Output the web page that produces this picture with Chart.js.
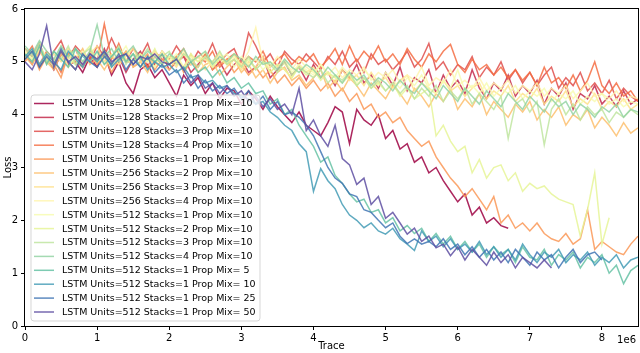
<!DOCTYPE html>
<html>
<head>
<meta charset="utf-8">
<script src="https://cdn.jsdelivr.net/npm/chart.js@4/dist/chart.umd.min.js"></script>
<style>body{margin:0;background:#fff}</style>
</head>
<body>
<canvas id="chart" width="640" height="353"></canvas>
<script>
'use strict'

// trace axis: one sample every 0.1e6 steps
const traceStep = 100000
const xTicks = [0, 1, 2, 3, 4, 5, 6, 7, 8]
const yTicks = [0, 1, 2, 3, 4, 5, 6]

const labels = [
	'LSTM Units=128 Stacks=1 Prop Mix=10',
	'LSTM Units=128 Stacks=2 Prop Mix=10',
	'LSTM Units=128 Stacks=3 Prop Mix=10',
	'LSTM Units=128 Stacks=4 Prop Mix=10',
	'LSTM Units=256 Stacks=1 Prop Mix=10',
	'LSTM Units=256 Stacks=2 Prop Mix=10',
	'LSTM Units=256 Stacks=3 Prop Mix=10',
	'LSTM Units=256 Stacks=4 Prop Mix=10',
	'LSTM Units=512 Stacks=1 Prop Mix=10',
	'LSTM Units=512 Stacks=2 Prop Mix=10',
	'LSTM Units=512 Stacks=3 Prop Mix=10',
	'LSTM Units=512 Stacks=4 Prop Mix=10',
	'LSTM Units=512 Stacks=1 Prop Mix= 5',
	'LSTM Units=512 Stacks=1 Prop Mix= 10',
	'LSTM Units=512 Stacks=1 Prop Mix= 25',
	'LSTM Units=512 Stacks=1 Prop Mix= 50',
]

const colors = [
	'#9e0142', '#c32a4b', '#df4e4b', '#f46d43',
	'#fa9857', '#fdbf6f', '#fee08b', '#fff5ae',
	'#f7fcb2', '#e6f598', '#bfe5a0', '#94d4a4',
	'#66c2a5', '#439bb5', '#4175b4', '#5e4fa2',
]

const loss128s1 = [5.05, 5.2, 4.9, 5.1, 4.85, 5.15, 4.95, 5.0, 4.8, 5.1,
	4.9, 5.15, 4.75, 5.0, 4.6, 4.4, 4.85, 4.95, 4.7, 4.85,
	4.6, 4.35, 4.75, 4.55, 4.7, 4.4, 4.6, 4.3, 4.5, 4.45,
	4.2, 4.45, 4.3, 4.1, 4.35, 4.15, 4.0, 3.85, 4.05, 3.8,
	3.7, 3.6, 3.85, 4.15, 4.05, 3.45, 4.1, 3.9, 3.8, 4.0,
	3.55, 3.7, 3.35, 3.45, 3.1, 3.2, 2.9, 3.0, 2.75, 2.55,
	2.35, 2.5, 2.1, 2.25, 1.95, 2.05, 1.9, 1.85]
const loss128s2 = [5.15, 4.95, 5.3, 5.05, 4.9, 5.2, 5.0, 4.85, 5.15, 5.05,
	4.9, 5.25, 4.95, 5.1, 4.8, 5.05, 5.2, 4.9, 4.95, 5.15,
	4.85, 5.0, 5.1, 4.8, 4.95, 5.15, 4.85, 5.0, 4.75, 4.95,
	5.05, 4.8, 4.9, 5.1, 4.7, 4.85, 5.0, 4.75, 4.9, 4.65,
	4.95, 4.7, 4.8, 4.55, 4.85, 4.7, 4.95, 4.6, 4.75, 4.5,
	4.8, 4.55, 4.9, 4.45, 4.7, 4.6, 4.85, 4.4, 4.75, 4.5,
	4.65, 4.4, 4.85, 4.5, 4.3, 4.6, 4.45, 4.75, 4.35, 4.55,
	4.4, 4.65, 4.2, 4.5, 4.35, 4.6, 4.1, 4.4, 4.3, 4.55,
	4.2, 4.35, 4.15, 4.45, 4.2, 4.3]
const loss128s3 = [5.25, 5.1, 5.35, 5.0, 5.2, 5.4, 5.05, 5.3, 5.15, 5.0,
	5.3, 5.1, 5.45, 5.15, 5.0, 5.25, 5.1, 5.35, 4.95, 5.2,
	5.05, 5.3, 5.1, 4.95, 5.2, 5.05, 5.35, 5.0, 5.15, 5.25,
	4.95, 5.55, 5.3, 5.0, 5.15, 4.9, 5.2, 5.05, 4.95, 5.15,
	5.0, 4.85, 5.1, 4.95, 5.2, 4.9, 5.05, 4.8, 5.15, 4.95,
	5.05, 4.85, 5.0, 5.2, 4.9, 5.05, 5.35, 4.85, 5.0, 4.75,
	4.95, 4.85, 5.1, 4.7, 4.9, 4.75, 5.0, 4.65, 4.85, 4.6,
	4.8, 4.55, 4.75, 4.9, 4.5, 4.7, 4.55, 4.8, 4.45, 4.6,
	4.4, 4.65, 4.3, 4.5, 4.35, 4.25]
const loss128s4 = [5.1, 5.3, 4.95, 5.2, 5.05, 4.8, 5.15, 5.25, 4.9, 5.1,
	5.0, 5.72, 5.05, 5.35, 5.0, 5.0, 5.15, 4.9, 5.2, 5.05,
	4.95, 5.1, 5.25, 4.95, 5.1, 5.0, 5.2, 4.9, 5.05, 5.15,
	4.95, 5.1, 5.0, 5.2, 4.9, 5.05, 5.15, 4.95, 5.1, 5.0,
	5.15, 4.9, 5.05, 5.25, 4.95, 5.3, 5.0, 5.2, 5.05, 5.3,
	5.0, 5.15, 4.95, 5.25, 5.05, 4.9, 5.15, 5.0, 5.2, 5.33,
	4.95, 4.8, 5.05, 4.85, 4.95, 4.75, 4.9, 4.7, 4.85, 4.65,
	4.8, 4.55, 4.9, 4.6, 4.7, 4.5, 4.75, 4.45, 4.65, 5.0,
	4.55, 4.4, 4.6, 4.35, 4.45, 4.25]
const loss256s1 = [5.0, 5.2, 4.85, 5.1, 4.95, 4.7, 5.15, 5.0, 4.9, 5.2,
	4.95, 5.1, 4.8, 5.05, 5.2, 4.9, 5.0, 5.15, 4.85, 5.05,
	4.95, 5.1, 4.8, 5.0, 4.9, 5.15, 4.85, 4.95, 5.05, 4.8,
	4.95, 4.75, 4.9, 4.7, 4.85, 4.6, 4.75, 4.55, 4.7, 4.5,
	4.65, 4.45, 4.6, 4.35, 4.5, 4.25, 4.4, 4.1, 4.2, 3.95,
	4.05, 3.85, 3.95, 3.7, 3.55, 3.4, 3.5, 3.2, 3.0, 2.8,
	2.65, 2.45, 2.6, 2.4, 2.2, 2.45, 1.95, 2.1, 1.85, 1.95,
	1.8, 1.95, 1.75, 1.65, 1.6, 1.75, 1.55, 1.65, 2.2, 1.45,
	1.6, 1.5, 1.4, 1.35, 1.55, 1.7]
const loss256s2 = [5.1, 4.95, 5.2, 5.0, 4.85, 5.15, 4.9, 5.05, 5.25, 4.95,
	5.05, 4.85, 5.1, 4.95, 5.2, 4.9, 5.0, 4.8, 5.1, 4.95,
	4.85, 5.05, 4.9, 5.15, 4.8, 4.95, 5.0, 4.75, 4.9, 5.05,
	4.8, 4.95, 4.7, 4.85, 4.6, 4.8, 4.9, 4.65, 4.75, 4.55,
	4.7, 4.85, 4.5, 4.65, 4.45, 4.7, 4.55, 4.35, 4.6, 4.45,
	4.3, 4.55, 4.4, 4.2, 4.5, 4.35, 4.15, 4.4, 4.25, 4.5,
	4.1, 4.3, 4.15, 4.4, 4.0, 4.25, 4.1, 3.95, 4.2, 4.05,
	4.25, 3.9, 4.1, 3.95, 4.15, 3.8, 4.0, 3.9, 4.1, 3.75,
	3.95, 3.8, 3.6, 3.85, 3.65, 3.75]
const loss256s3 = [5.2, 5.05, 5.3, 4.95, 5.15, 5.0, 5.25, 5.1, 4.9, 5.15,
	5.3, 5.0, 5.15, 4.95, 5.1, 5.25, 5.0, 5.1, 4.9, 5.2,
	5.05, 4.9, 5.15, 5.0, 5.1, 4.85, 5.0, 5.15, 4.95, 5.05,
	4.85, 5.0, 4.9, 5.1, 4.8, 4.95, 4.85, 4.7, 4.95, 4.8,
	4.9, 4.7, 4.8, 4.6, 4.85, 4.65, 4.75, 4.55, 4.8, 4.6,
	4.7, 4.5, 4.65, 4.75, 4.45, 4.6, 4.5, 4.4, 4.65, 4.45,
	4.55, 4.35, 4.5, 4.6, 4.3, 4.45, 4.35, 4.55, 4.25, 4.4,
	4.3, 4.5, 4.2, 4.35, 4.25, 4.45, 4.15, 4.3, 4.2, 4.4,
	4.1, 4.25, 4.15, 4.3, 4.1, 4.2]
const loss256s4 = [5.1, 5.25, 4.95, 5.15, 5.0, 5.3, 4.9, 5.1, 5.2, 5.0,
	5.15, 4.95, 5.1, 5.25, 5.0, 5.15, 4.9, 5.05, 5.2, 4.95,
	5.1, 5.0, 5.2, 4.95, 5.1, 5.05, 4.9, 5.15, 5.0, 5.1,
	4.95, 5.2, 5.65, 5.0, 4.9, 5.1, 4.95, 4.85, 5.05, 4.9,
	4.8, 4.95, 4.75, 4.9, 4.7, 4.85, 4.75, 4.9, 4.65, 4.8,
	4.7, 4.85, 4.6, 4.75, 4.65, 4.9, 4.55, 4.7, 4.6, 4.85,
	4.55, 4.65, 4.5, 4.7, 4.45, 4.6, 4.5, 4.65, 4.4, 4.55,
	4.45, 4.6, 4.35, 4.5, 4.4, 4.55, 4.3, 4.45, 4.6, 4.35,
	4.4, 4.3, 4.45, 4.25, 4.35, 4.3]
const loss512s1 = [5.2, 5.05, 5.3, 5.1, 4.95, 5.2, 5.05, 5.25, 5.0, 5.15,
	5.05, 5.2, 4.95, 5.1, 5.3, 5.0, 5.15, 5.05, 4.9, 5.2,
	5.0, 5.15, 4.9, 5.1, 5.0, 5.2, 4.95, 5.05, 5.15, 4.9,
	5.1, 4.95, 5.05, 4.85, 5.0, 4.9, 5.05, 4.8, 4.95, 4.85,
	4.75, 4.95, 4.8, 4.7, 4.9, 4.75, 4.6, 4.85, 4.7, 4.55,
	4.8, 4.65, 4.5, 4.7, 4.55, 4.75, 4.5, 4.4, 4.65, 4.5,
	4.85, 4.45, 4.55, 4.4, 4.6, 4.35, 4.5, 4.4, 4.55, 4.3,
	4.45, 4.35, 4.5, 4.25, 4.4, 4.3, 4.45, 4.2, 4.35, 4.25,
	4.4, 4.2, 4.3, 4.15, 4.25, 4.2]
const loss512s2 = [5.15, 5.0, 5.25, 5.05, 4.9, 5.2, 5.1, 4.95, 5.15, 5.3,
	5.0, 5.1, 4.9, 5.2, 5.05, 4.95, 5.15, 5.0, 5.25, 4.95,
	5.1, 5.0, 4.85, 5.15, 5.0, 5.1, 4.9, 5.05, 4.95, 5.15,
	4.9, 5.05, 4.85, 5.0, 4.8, 4.95, 4.85, 4.7, 4.9, 4.75,
	4.85, 4.65, 4.8, 4.7, 4.6, 4.75, 4.55, 4.7, 4.5, 4.6,
	4.45, 4.6, 4.35, 4.5, 4.3, 4.4, 4.5, 3.6, 3.8, 3.5,
	3.3, 3.4, 2.9, 3.15, 2.8, 3.0, 3.05, 2.75, 2.9, 2.55,
	2.7, 2.6, 2.65, 2.5, 2.4, 2.35, 2.3, 1.7, 2.2, 2.9,
	1.55, 2.05]
const loss512s3 = [5.25, 5.1, 5.35, 5.0, 5.2, 5.05, 5.3, 4.95, 5.15, 5.25,
	5.0, 5.2, 5.1, 5.3, 4.95, 5.15, 5.05, 5.25, 5.0, 5.1,
	5.2, 4.95, 5.15, 5.05, 4.9, 5.1, 5.0, 5.2, 4.95, 5.05,
	4.9, 5.1, 4.85, 5.0, 4.95, 4.8, 5.0, 4.75, 4.9, 4.8,
	4.7, 4.85, 4.6, 4.75, 4.65, 4.8, 4.55, 4.7, 4.5, 4.65,
	4.45, 4.6, 4.4, 4.55, 4.3, 4.5, 4.35, 4.55, 4.25, 4.45,
	4.3, 4.5, 4.2, 4.4, 4.25, 4.1, 4.35, 3.55, 4.2, 4.3,
	4.05, 4.25, 3.43, 4.1, 4.3, 4.0, 4.2, 3.9, 4.15, 4.0,
	4.1, 3.85, 4.05, 3.95, 4.1, 4.0]
const loss512s4 = [5.3, 5.15, 5.4, 5.2, 5.05, 5.3, 5.1, 5.25, 5.0, 5.2,
	5.7, 5.1, 5.25, 5.0, 5.15, 5.3, 5.05, 5.2, 5.1, 4.95,
	5.15, 5.05, 5.25, 5.0, 5.1, 5.2, 4.95, 5.1, 5.0, 5.15,
	5.05, 4.9, 5.1, 4.95, 5.0, 4.85, 5.05, 4.9, 4.8, 4.95,
	4.85, 4.7, 4.9, 4.75, 4.6, 4.8, 4.65, 4.75, 4.55, 4.7,
	4.6, 4.45, 4.65, 4.5, 4.4, 4.6, 4.45, 4.3, 4.55, 4.4,
	4.25, 4.5, 4.35, 4.2, 4.45, 4.3, 4.15, 4.4, 4.25, 4.1,
	4.35, 4.2, 4.05, 4.3, 4.15, 4.25, 4.0, 4.2, 4.1, 3.95,
	4.15, 4.05, 4.2, 3.95, 4.1, 4.05]
const lossMix5 = [5.15, 5.0, 5.3, 4.95, 5.2, 5.05, 4.9, 5.25, 5.1, 5.0,
	5.2, 4.95, 5.1, 5.25, 5.0, 5.15, 4.9, 5.1, 5.0, 5.15,
	4.95, 5.05, 4.85, 5.0, 4.8, 4.9, 4.7, 4.85, 4.6, 4.7,
	4.5, 4.6, 4.4, 4.45, 4.2, 4.3, 4.0, 4.1, 3.8, 3.6,
	3.4, 3.1, 3.2, 2.85, 2.7, 2.5, 2.35, 2.4, 2.15, 2.2,
	1.95, 2.05, 1.8, 1.9, 1.75, 1.85, 1.6, 1.75, 1.55, 1.7,
	1.45, 1.6, 1.4, 1.55, 1.3, 1.5, 1.35, 1.45, 1.2, 1.5,
	1.3, 1.25, 1.45, 1.15, 1.35, 1.25, 1.4, 1.1, 1.3, 1.2,
	1.35, 1.0, 1.15, 0.8, 1.05, 1.15]
const lossMix10 = [5.1, 5.25, 4.95, 5.15, 5.0, 4.85, 5.2, 5.05, 4.9, 5.15,
	5.0, 5.2, 4.9, 5.05, 5.15, 4.95, 5.1, 4.85, 5.0, 4.9,
	4.95, 4.8, 4.9, 4.7, 4.75, 4.6, 4.65, 4.5, 4.55, 4.4,
	4.35, 4.3, 4.2, 4.25, 4.05, 3.95, 3.8, 3.7, 3.45, 3.3,
	2.55, 2.98, 2.75, 2.6, 2.3, 2.1, 2.0, 1.86, 1.95, 1.8,
	1.74, 1.85, 1.65, 1.55, 1.43, 1.8, 1.6, 1.7, 1.5, 1.65,
	1.45, 1.55, 1.4, 1.6, 1.35, 1.5, 1.3, 1.45, 1.25, 1.55,
	1.35, 1.2, 1.4, 1.3, 1.45, 1.2, 1.35, 1.25, 1.4, 1.15,
	1.3, 1.2, 1.35, 1.1, 1.25, 1.3]
const lossMix25 = [5.05, 5.2, 4.9, 5.1, 4.95, 5.25, 5.0, 4.85, 5.15, 5.0,
	4.9, 5.1, 4.95, 5.15, 4.85, 5.05, 4.9, 5.1, 4.8, 4.95,
	4.75, 4.85, 4.6, 4.75, 4.5, 4.65, 4.45, 4.55, 4.4, 4.5,
	4.3, 4.45, 4.2, 4.35, 4.1, 4.25, 4.0, 4.05, 3.95, 3.8,
	3.6, 3.3, 3.0, 2.8, 2.7, 2.5, 2.45, 2.2, 2.15, 2.0,
	1.86, 1.95, 1.7, 1.56, 1.65, 1.55, 1.6, 1.5, 1.65, 1.45,
	1.55, 1.35, 1.5, 1.3, 1.45, 1.25, 1.4, 1.2, 1.45, 1.3,
	1.15, 1.4, 1.25, 1.35, 1.1, 1.3, 1.45, 1.2, 1.35, 1.4,
	1.25]
const lossMix50 = [5.0, 4.85, 5.15, 5.68, 4.9, 5.2, 5.0, 5.1, 4.95, 5.15,
	5.05, 5.2, 5.0, 5.1, 5.15, 4.95, 5.1, 5.05, 5.15, 5.0,
	4.95, 5.05, 4.85, 4.6, 4.75, 4.5, 4.6, 4.4, 4.55, 4.35,
	4.45, 4.25, 4.35, 4.15, 4.3, 4.1, 4.2, 4.0, 4.5, 3.7,
	3.9, 3.6, 3.4, 3.8, 3.17, 3.05, 2.68, 2.8, 2.3, 2.45,
	2.04, 2.15, 1.95, 1.74, 1.85, 1.6, 1.7, 1.48, 1.55, 1.33,
	1.5, 1.25, 1.45, 1.3, 1.15, 1.4, 1.2, 1.35, 1.1, 1.3,
	1.2, 1.1, 1.25, 1.1]

const series = [
	loss128s1, loss128s2, loss128s3, loss128s4,
	loss256s1, loss256s2, loss256s3, loss256s4,
	loss512s1, loss512s2, loss512s3, loss512s4,
	lossMix5, lossMix10, lossMix25, lossMix50,
]

function hexToRgba(hex, a) {
	const n = parseInt(hex.slice(1), 16)
	return `rgba(${n >> 16},${(n >> 8) & 255},${n & 255},${a})`
}

const FONT = '"DejaVu Sans", sans-serif'

// matplotlib-like frame + inside legend + offset text
const frameLegend = {
	id: 'frameLegend',
	afterDraw(chart) {
		const ctx = chart.ctx
		const a = chart.chartArea
		ctx.save()
		ctx.strokeStyle = '#000'
		ctx.lineWidth = 1
		ctx.strokeRect(Math.round(a.left) - 0.5, Math.round(a.top) - 0.5, a.right - a.left + 1, a.bottom - a.top + 1)

		// legend box
		const bx = 31, by = 95, bw = 229, bh = 226, r = 3
		ctx.beginPath()
		ctx.moveTo(bx + r, by)
		ctx.arcTo(bx + bw, by, bx + bw, by + bh, r)
		ctx.arcTo(bx + bw, by + bh, bx, by + bh, r)
		ctx.arcTo(bx, by + bh, bx, by, r)
		ctx.arcTo(bx, by, bx + bw, by, r)
		ctx.closePath()
		ctx.fillStyle = 'rgba(255,255,255,0.8)'
		ctx.fill()
		ctx.strokeStyle = 'rgba(204,204,204,0.8)'
		ctx.stroke()

		ctx.font = '9.5px ' + FONT
		ctx.textBaseline = 'middle'
		ctx.textAlign = 'left'
		chart.data.datasets.forEach((ds, i) => {
			const y = 103.5 + i * 13.9
			ctx.strokeStyle = ds.borderColor
			ctx.lineWidth = 1.5
			ctx.beginPath()
			ctx.moveTo(34, y)
			ctx.lineTo(54, y)
			ctx.stroke()
			ctx.fillStyle = '#000'
			ctx.fillText(ds.label, 62, y + 0.5)
		})

		ctx.font = '10px ' + FONT
		ctx.textAlign = 'right'
		ctx.fillText('1e6', a.right - 2, 340)
		ctx.restore()
	},
}

new Chart(document.getElementById('chart'), {
	type: 'line',
	data: {
		datasets: series.map((values, i) => ({
			label: labels[i],
			data: values.map((y, k) => ({ x: k * traceStep, y })),
			borderColor: hexToRgba(colors[i], 0.85),
			borderWidth: 1.5,
			pointRadius: 0,
			tension: 0,
			order: series.length - i,
		})),
	},
	options: {
		responsive: false,
		devicePixelRatio: 1,
		animation: false,
		layout: { padding: { top: 6, right: 2, left: 0, bottom: 0 } },
		plugins: {
			legend: { display: false },
			tooltip: { enabled: false },
		},
		scales: {
			x: {
				type: 'linear',
				min: 0,
				max: 8.5e6,
				afterFit: s => { s.height = 27 },
				afterBuildTicks: s => { s.ticks = xTicks.map(v => ({ value: v * 1e6 })) },
				grid: { drawOnChartArea: false, drawTicks: true, tickLength: 4, color: '#000' },
				border: { display: false },
				ticks: {
					padding: 2,
					color: '#000',
					font: { family: FONT, size: 10 },
					maxRotation: 0,
					callback: v => String(v / 1e6),
				},
				title: {
					display: true,
					text: 'Trace',
					color: '#000',
					font: { family: FONT, size: 10 },
					padding: { top: 0, bottom: 1 },
				},
			},
			y: {
				min: 0,
				max: 6,
				afterFit: s => { s.width = 25 },
				afterBuildTicks: s => { s.ticks = yTicks.map(v => ({ value: v })) },
				grid: { drawOnChartArea: false, drawTicks: true, tickLength: 4, color: '#000' },
				border: { display: false },
				ticks: {
					padding: 3,
					color: '#000',
					font: { family: FONT, size: 10 },
				},
				title: {
					display: true,
					text: 'Loss',
					color: '#000',
					font: { family: FONT, size: 10 },
					padding: { top: 2, bottom: 0 },
				},
			},
		},
	},
	plugins: [frameLegend],
})
</script>
</body>
</html>
